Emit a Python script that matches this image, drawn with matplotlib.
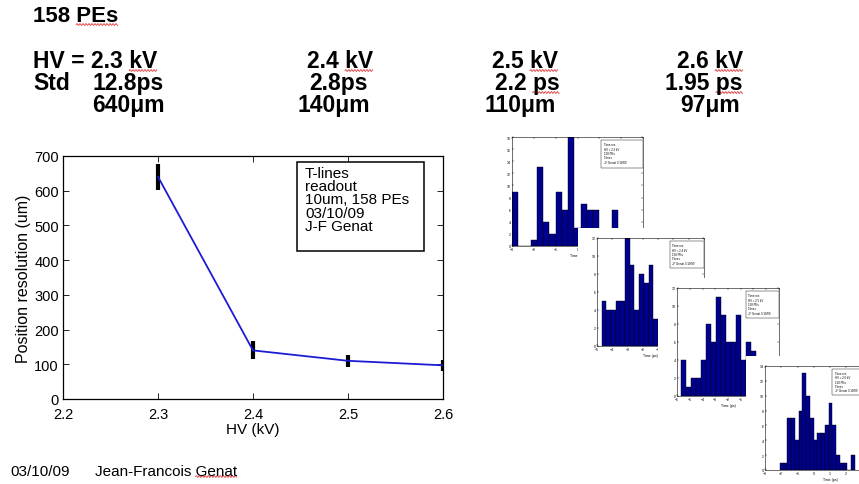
import matplotlib
matplotlib.use("Agg")
import matplotlib.pyplot as plt
import numpy as np
from matplotlib.patches import Rectangle
from matplotlib.lines import Line2D
from matplotlib.transforms import IdentityTransform

plt.rcParams['font.family'] = ['Liberation Sans', 'DejaVu Sans']

# position resolution vs high voltage
hv = [2.3, 2.4, 2.5, 2.6]
resolution = [640, 140, 110, 97]
resolution_err = [38, 26, 17, 16]

# header table
hv_labels = ['2.4 kV', '2.5 kV', '2.6 kV']
std_time = ['12.8ps', '2.8ps', '2.2 ps', '1.95 ps']
std_pos = ['640\u03bcm', '140\u03bcm', '110\u03bcm', '97\u03bcm']

# time-difference histograms, one per HV setting
h1_start, h1_width = -3.0, 6.0 / 21
h1_counts = [9, 0, 0, 1, 13, 4, 2, 9, 6, 19, 3, 7, 6, 6, 0, 0, 6]
h2_start, h2_width = -4.69, 0.306
h2_counts = [5, 4, 4, 5, 5, 12, 9, 4, 8, 7, 9, 3]
h3_start, h3_width = -5.66, 0.388
h3_counts = [4, 1, 2, 2, 4, 8, 6, 11, 9, 6, 6, 9, 4, 6, 5]
h4_start, h4_width = -2.08, 0.23
h4_counts = [1, 1, 7, 7, 4, 8, 13, 10, 7, 4, 5, 5, 6, 9, 6, 2, 1, 1, 0, 2]

W, H = 859, 485


def box(l, t, r, b):
    # pixel box (left, top, right, bottom) -> figure fraction rect
    return [l / W, 1 - b / H, (r - l) / W, (b - t) / H]


fig = plt.figure(figsize=(W / 100, H / 100), dpi=100)
fig.patch.set_facecolor('white')

# ---- main plot ----
ax = fig.add_axes(box(63, 157, 443, 400))
ax.errorbar(hv, resolution, yerr=resolution_err, fmt='-', color='#1c1cd2',
            lw=1.3, ecolor='black', elinewidth=3.0, capsize=0)
ax.set_xlim(2.2, 2.6)
ax.set_ylim(0, 700)
ax.set_xticks(np.arange(2.2, 2.61, 0.1))
ax.set_yticks(np.arange(0, 701, 100))
ax.set_xticklabels(['2.2', '2.3', '2.4', '2.5', '2.6'])
ax.tick_params(direction='in', length=4, width=0.6, top=True, right=True,
               labelsize=10.5, pad=3)
ax.tick_params(axis='x', pad=5.5)
for s in ax.spines.values():
    s.set_linewidth(0.9)
ax.set_xlabel('HV (kV)', fontsize=11, labelpad=1)
ax.set_ylabel('Position resolution (um)', fontsize=11.5, labelpad=2)

# annotation box
ax.add_patch(Rectangle((0.616, 0.609), 0.334, 0.366, transform=ax.transAxes,
                       facecolor='white', edgecolor='black', lw=1.1,
                       zorder=4))
ax.text(0.637, 0.958, 'T-lines\nreadout\n10um, 158 PEs\n03/10/09\nJ-F Genat',
        transform=ax.transAxes, ha='left', va='top', fontsize=11,
        linespacing=0.92, zorder=5)

# ---- histogram thumbnails ----
thumbs = [
    (h1_start, h1_width, h1_counts, (-3, 3), 18, (512, 138, 643, 247),
     'HV = 2.3 kV'),
    (h2_start, h2_width, h2_counts, (-5, 2), 12, (597, 239, 704, 347),
     'HV = 2.4 kV'),
    (h3_start, h3_width, h3_counts, (-6, 2), 12, (677, 289, 779, 397),
     'HV = 2.5 kV'),
    (h4_start, h4_width, h4_counts, (-3, 5), 14, (765, 367, 895, 471),
     'HV = 2.6 kV'),
]
for i, (start, width, counts, xlim, ytop, px, hvtxt) in enumerate(thumbs):
    l, t, r, b = px
    # white card behind each thumbnail, covering the previous one
    card = box(l - 19, t - 10, r + 12, b + 16)
    fig.add_artist(Rectangle((card[0], card[1]), card[2], card[3],
                             transform=fig.transFigure, facecolor='white',
                             edgecolor='none', zorder=2 + 2 * i))
    hax = fig.add_axes(box(l, t, r, b), zorder=3 + 2 * i)
    lefts = start + width * np.arange(len(counts))
    hax.bar(lefts, counts, width=width, align='edge', color='#00008f',
            edgecolor='black', lw=0.3)
    hax.set_xlim(*xlim)
    hax.set_ylim(0, ytop)
    last = xlim[1] if i < 3 else 2
    hax.set_xticks(np.arange(xlim[0], last + 1, 1))
    hax.set_yticks(np.arange(0, ytop + 1, 2))
    hax.tick_params(direction='in', length=1.5, width=0.3, top=True,
                    right=True, labelsize=2.5, pad=1)
    for s in hax.spines.values():
        s.set_linewidth(0.4)
    hax.set_xlabel('Time (ps)', fontsize=2.5, labelpad=1)
    bx = 0.68 if i < 3 else 0.515
    hax.add_patch(Rectangle((bx, 0.72), 0.32, 0.25,
                            transform=hax.transAxes, facecolor='white',
                            edgecolor='black', lw=0.3, zorder=5))
    hax.text(bx + 0.02, 0.95,
             'Time res.\n' + hvtxt + '\n158 PEs\nT-lines\nJF Genat 3/10/09',
             transform=hax.transAxes, ha='left', va='top', fontsize=2.1,
             linespacing=1.1, zorder=6)

# ---- slide text (positions are baselines) ----
def put(x, y, s, ha='left', size=16.5, weight='bold'):
    return fig.text(x / W, 1 - y / H, s, ha=ha, va='baseline', fontsize=size,
                    fontweight=weight)


underlined = []
underlined.append((put(33, 22, '158 PEs', size=16), 'PEs'))
underlined.append((put(33, 68, 'HV = 2.3 kV'), 'kV'))
put(33, 90, 'Std')
for xc, s in zip([340, 525, 710], hv_labels):
    underlined.append((put(xc, 68, s, ha='center'), 'kV'))
for xc, s in zip([128, 339, 527, 704], std_time):
    t = put(xc, 90, s, ha='center')
    if ' ' in s:
        underlined.append((t, 'ps'))
for xc, s in zip([128, 334, 520, 710], std_pos):
    put(xc, 112, s, ha='center')

put(10, 476, '03/10/09', size=11, weight='normal')
underlined.append((put(95, 476, 'Jean-Francois Genat', size=11,
                       weight='normal'), 'Genat'))

# red spell-check squiggles under the trailing words
renderer = fig.canvas.get_renderer()
for txt, word in underlined:
    bb = txt.get_window_extent(renderer)
    tmp = fig.text(0, 0, word, fontproperties=txt.get_fontproperties())
    w = tmp.get_window_extent(renderer).width
    tmp.remove()
    xs = np.arange(bb.x1 - w, bb.x1, 0.5)
    ys = bb.y0 + 1.5 + 0.9 * np.sin((xs - xs[0]) * np.pi / 1.5)
    fig.add_artist(Line2D(xs, ys, transform=IdentityTransform(),
                          color='#e03030', lw=0.6))

fig.savefig('out.png', dpi=100)
